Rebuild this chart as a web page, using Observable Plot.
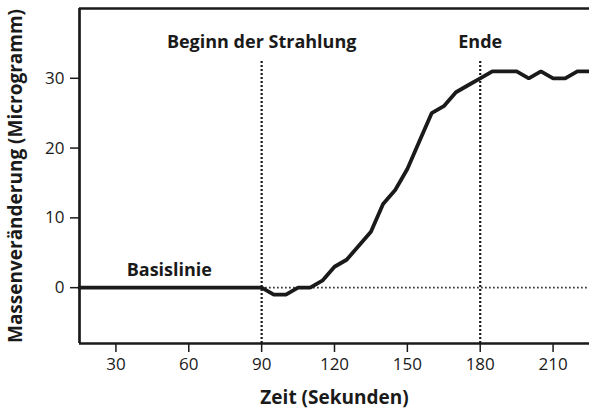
<!DOCTYPE html>
<html>
<head>
<meta charset="utf-8">
<script src="https://cdn.jsdelivr.net/npm/d3@7"></script>
<script src="https://cdn.jsdelivr.net/npm/@observablehq/plot@0.6"></script>
<style>
  html, body { margin: 0; padding: 0; background: #fff; }
</style>
</head>
<body>
<div id="chart"></div>
<script>
// Data
const times  = [15, 90, 95, 100, 105, 110, 115, 120, 125, 130, 135, 140, 145, 150, 155, 160, 165, 170, 175, 180, 185, 190, 195, 200, 205, 210, 215, 220, 225];
const values = [0, 0, -1, -1, 0, 0, 1, 3, 4, 6, 8, 12, 14, 17, 21, 25, 26, 28, 29, 30, 31, 31, 31, 30, 31, 30, 30, 31, 31];
const xTicks = [30, 60, 90, 120, 150, 180, 210];
const yTicks = [0, 10, 20, 30];
const eventTimes = [90, 180];
const annotationTexts = ["Beginn der Strahlung", "Ende", "Basislinie"];
const annotationX = [90, 180, 52];
const annotationY = [35.2, 35.2, 2.5];
const xLabel = "Zeit (Sekunden)";
const yLabel = "Massenveränderung (Microgramm)";

const series = times.map((t, i) => ({t, v: values[i]}));
const annotations = annotationTexts.map((s, i) => ({s, x: annotationX[i], y: annotationY[i]}));

const ink = "#1a1a1a";

const chart = Plot.plot({
  width: 589,
  height: 414,
  marginLeft: 79,
  marginTop: 8,
  marginBottom: 71,
  marginRight: 0,
  style: {fontFamily: "'Open Sans', sans-serif", fontSize: "17px", color: ink, background: "#fff"},
  x: {domain: [15, 225]},
  y: {domain: [-8, 40]},
  marks: [
    // frame (left, top, bottom)
    Plot.ruleX([15], {stroke: ink, strokeWidth: 2.7}),
    Plot.ruleY([40], {stroke: ink, strokeWidth: 2.7}),
    Plot.ruleY([-8], {stroke: ink, strokeWidth: 2.7}),
    // dotted references
    Plot.ruleX(eventTimes, {y1: -8, y2: 32.6, stroke: ink, strokeWidth: 2.2, strokeDasharray: "2,2"}),
    Plot.ruleY([0], {x1: 90, x2: 225, stroke: ink, strokeWidth: 1.6, strokeDasharray: "1.5,2.5"}),
    // axes
    Plot.axisX({ticks: xTicks, tickSize: 9, tickPadding: 5, tickFormat: d => String(d), label: null, stroke: ink, strokeWidth: 1.5, fontSize: 17}),
    Plot.axisY({ticks: yTicks, tickSize: 9, tickPadding: 6, tickFormat: d => String(d), label: null, stroke: ink, strokeWidth: 1.5, fontSize: 17}),
    // data line
    Plot.line(series, {x: "t", y: "v", stroke: ink, strokeWidth: 3.8, strokeLinejoin: "miter"}),
    // annotations
    Plot.text(annotations, {x: "x", y: "y", text: "s", fontWeight: "bold", fontSize: 18, fill: ink}),
    // axis titles
    Plot.text([xLabel], {frameAnchor: "bottom", dy: 60, fontWeight: "bold", fontSize: 19, fill: ink}),
    Plot.text([yLabel], {frameAnchor: "left", textAnchor: "middle", dx: -64, rotate: -90, fontWeight: "bold", fontSize: 19, fill: ink})
  ]
});
document.getElementById("chart").appendChild(chart);
</script>
</body>
</html>
